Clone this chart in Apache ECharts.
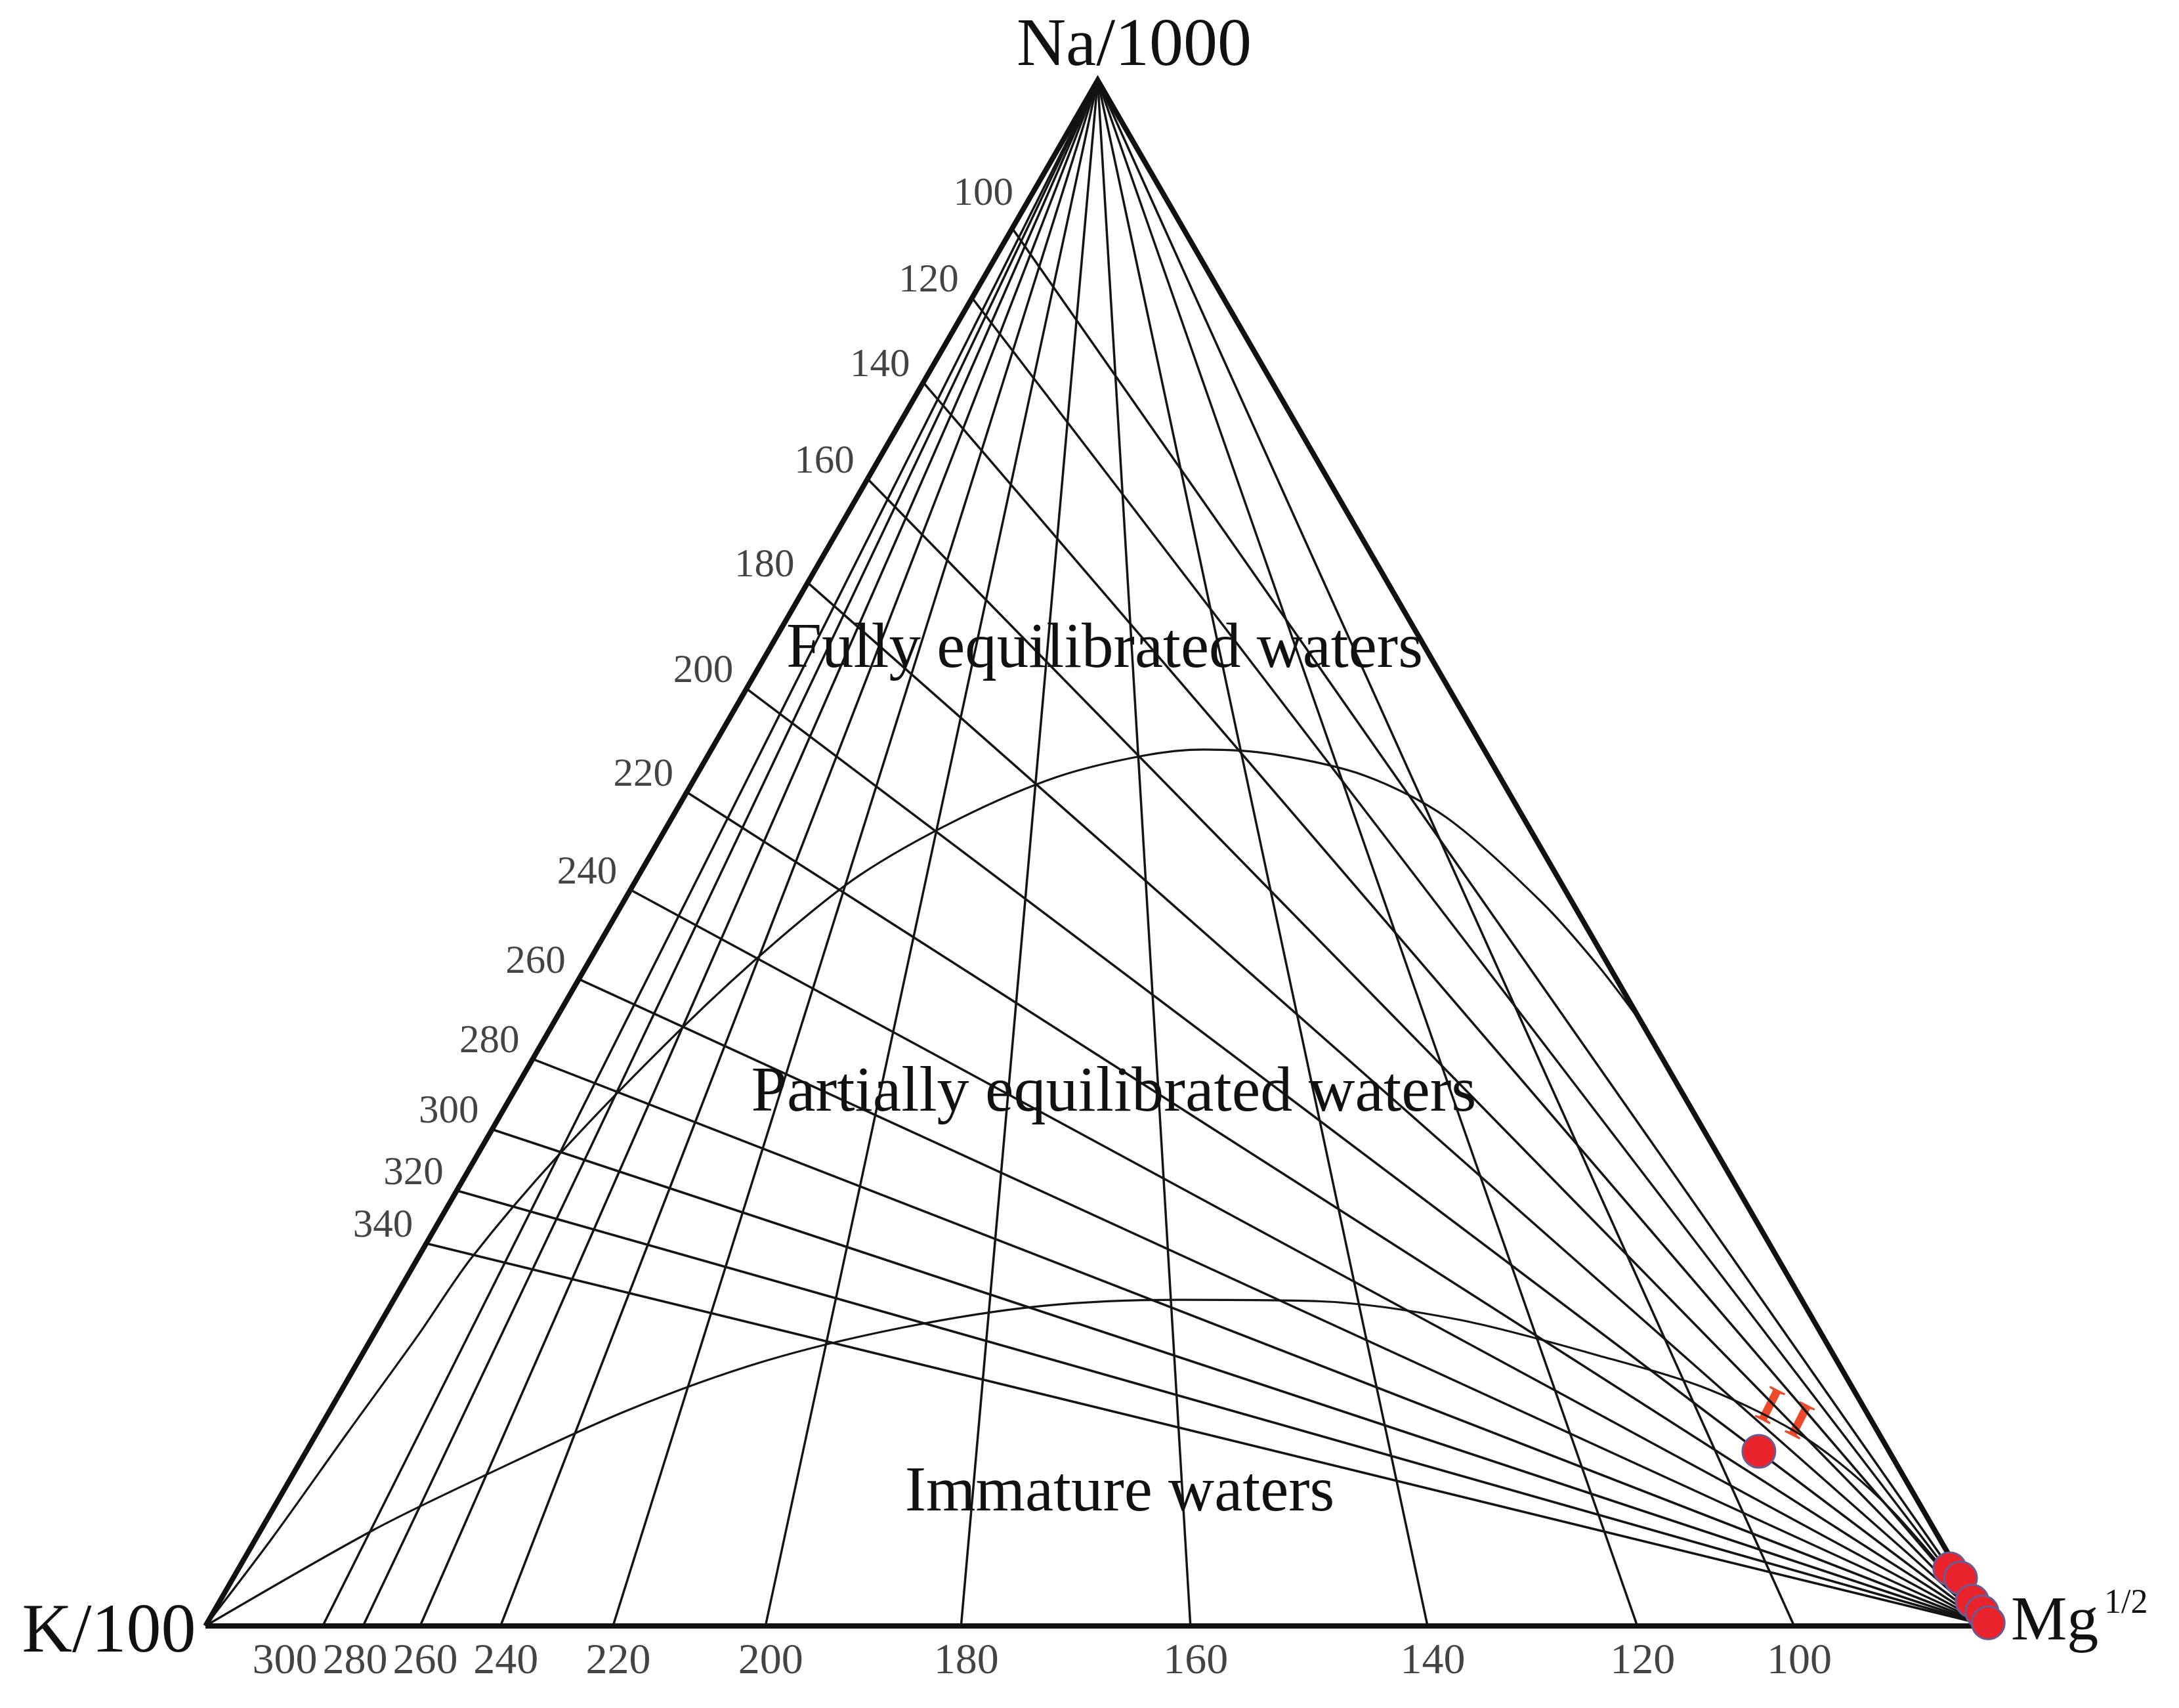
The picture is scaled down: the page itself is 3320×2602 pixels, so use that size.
<!DOCTYPE html>
<html><head><meta charset="utf-8">
<script src="https://cdn.jsdelivr.net/npm/echarts@6.0.0/dist/echarts.min.js"></script>
<style>html,body{margin:0;padding:0;background:#fff}#c{width:3320px;height:2602px}</style>
</head><body><div id="c"></div>
<script>
// Giggenbach Na-K-Mg ternary diagram
// Temperature ticks (°C)
const naKTemps = [100,120,140,160,180,200,220,240,260,280,300,320,340];   // K-Na geothermometer, Na/1000–K/100 edge
const kMgTemps = [300,280,260,240,220,200,180,160,140,120,100];           // K-Mg geothermometer, K/100–Mg^1/2 edge

// Curves, as [Na/1000 %, K/100 %, Mg^1/2 %]
const fullEquilibriumCurve = [
  [0,100,0],[5.7,93.4,0.9],[12.4,85.9,1.7],[18.7,78.8,2.5],[23.8,73.2,3.0],[30.6,64.8,4.6],
  [38.8,53.9,7.4],[44.4,45.7,9.9],[48.6,39.0,12.4],[52.2,31.7,16.1],[54.9,24.9,20.2],
  [56.3,19.3,24.4],[56.7,15.7,27.6],[56.4,12.0,31.6],[55.0,7.5,37.5],[52.3,4.3,43.4],
  [46.8,1.7,51.5],[42.7,0.6,56.7],[38.9,0.0,61.1]
];
const immatureBoundaryCurve = [
  [0,100,0],[6.2,87.5,6.3],[9.9,79.1,11.0],[13.9,69.5,16.6],[17.1,60.2,22.7],[19.3,51.3,29.4],
  [20.7,42.8,36.5],[21.1,34.8,44.1],[21.0,27.0,52.0],[19.8,19.8,60.4],[17.5,13.2,69.3],
  [15.3,8.1,76.6],[12.1,4.2,83.7],[7.6,1.8,90.6],[0,0,100]
];

// Samples [Na/1000 %, K/100 %, Mg^1/2 %]
const sampleNa = [11.3, 3.7, 3.1, 1.6, 0.9, 0.2];
const sampleK  = [7.3, 0.4, 0.1, 0.2, 0.0, 0.0];
const sampleMg = [81.4, 95.9, 96.8, 98.2, 99.1, 99.8];

const vertexLabels = {na: 'Na/1000', k: 'K/100', mg: 'Mg', mgSup: '1/2'};
const regionLabels = ['Fully equilibrated waters', 'Partially equilibrated waters', 'Immature waters'];

const SQ = Math.sqrt(3) / 2;
function tern(na, k, mg) { const s = na + k + mg; return [(mg + na * 0.5) / s, na * SQ / s]; }
// geothermometer scales of the diagram
function naOverK(t) { return Math.pow(10, 1390 / (t + 273.15) - 1.75) / 10; }        // (Na/1000)/(K/100)
function mgOverK(t) { const L = 14.0 - 4410 / (t + 273.15); return 100 * Math.pow(10, -L / 2); } // Mg^1/2/(K/100)

const GX = 313, GY = 122, GW = 2719, GH = 2355;
const U = 1 / GW; // one pixel in axis units

const lineData = [];
const leftLabels = [];
naKTemps.forEach((t, i) => {
  const p = tern(naOverK(t), 1, 0);
  lineData.push({coords: [p, [1, 0]]});
  const off = i === 0 ? [-44, 52] : [-66, 26];   // label placement beside the edge
  leftLabels.push({value: [p[0] + off[0] * U, p[1] + off[1] * U], name: String(t)});
});
const bottomRaw = [];
kMgTemps.forEach(t => {
  const p = tern(0, 1, mgOverK(t));
  lineData.push({coords: [[0.5, SQ], p]});
  bottomRaw.push({x: p[0] + 8 * U, t});
});
bottomRaw.sort((a, b) => a.x - b.x);
for (let i = bottomRaw.length - 2; i >= 0; i--) {
  bottomRaw[i].x = Math.min(bottomRaw[i].x, bottomRaw[i + 1].x - 107 * U);
}
const bottomLabels = bottomRaw.map(o => ({value: [o.x, -55 * U], name: String(o.t)}));

const fullPts = fullEquilibriumCurve.map(d => tern(d[0], d[1], d[2]));
const immPts = immatureBoundaryCurve.map(d => tern(d[0], d[1], d[2]));
const samplePts = sampleNa.map((v, i) => tern(v, sampleK[i], sampleMg[i]));

const FONT = '"Liberation Serif", "Times New Roman", serif';
const T = (text, x, y, size, align, extra) => Object.assign({type: 'text', x, y, z: 20,
  style: {text, font: size + 'px ' + FONT, fill: '#111', align, verticalAlign: 'middle', textAlign: align, textVerticalAlign: 'middle'}}, extra || {});

const chart = echarts.init(document.getElementById('c'), null, {renderer: 'canvas'});
chart.setOption({
  animation: false,
  backgroundColor: '#ffffff',
  grid: {left: GX, top: GY, width: GW, height: GH},
  xAxis: {type: 'value', min: 0, max: 1, show: false},
  yAxis: {type: 'value', min: 0, max: GH / GW, show: false},
  series: [
    {type: 'lines', coordinateSystem: 'cartesian2d', silent: true, z: 3, clip: false,
     lineStyle: {color: '#141414', width: 3.5, opacity: 1}, data: lineData},
    {type: 'line', data: fullPts, smooth: 0.3, symbol: 'none', z: 3, silent: true, clip: false,
     lineStyle: {color: '#141414', width: 3.2}},
    {type: 'line', data: immPts, smooth: 0.3, symbol: 'none', z: 3, silent: true, clip: false,
     lineStyle: {color: '#141414', width: 3.2}},
    {type: 'line', data: [[0, 0], [1, 0], [0.5, SQ], [0, 0]], symbol: 'none', z: 4, silent: true, clip: false,
     lineStyle: {color: '#111', width: 8, join: 'miter'}},
    {type: 'scatter', data: leftLabels, symbolSize: 0, silent: true, z: 5, clip: false,
     label: {show: true, position: 'inside', formatter: p => p.name, fontFamily: FONT, fontSize: 61, color: '#141414'}},
    {type: 'scatter', data: bottomLabels, symbolSize: 0, silent: true, z: 5, clip: false,
     label: {show: true, position: 'inside', formatter: p => p.name, fontFamily: FONT, fontSize: 66, color: '#141414'}},
    {type: 'scatter', data: samplePts, symbolSize: 50, z: 10, clip: false,
     itemStyle: {color: '#e8232b', borderColor: '#6b5b95', borderWidth: 3, opacity: 1}}
  ],
  graphic: [
    T(vertexLabels.na, 1728, 72, 104, 'center'),
    T(vertexLabels.k, 166, 2488, 106, 'center'),
    T(vertexLabels.mg, 3064, 2473, 96, 'left'),
    T(vertexLabels.mgSup, 3206, 2443, 52, 'left'),
    T(regionLabels[0], 1683, 991, 97, 'center'),
    T(regionLabels[1], 1697, 1666, 98, 'center'),
    T(regionLabels[2], 1706, 2276, 97, 'center'),
    {type: 'text', x: 2717, y: 2157, rotation: -0.47, z: 0, style: {text: 'I I', font: 'bold 80px ' + FONT, fill: '#ee4a2a', align: 'center', verticalAlign: 'middle', textAlign: 'center', textVerticalAlign: 'middle'}}
  ]
});
</script></body></html>
